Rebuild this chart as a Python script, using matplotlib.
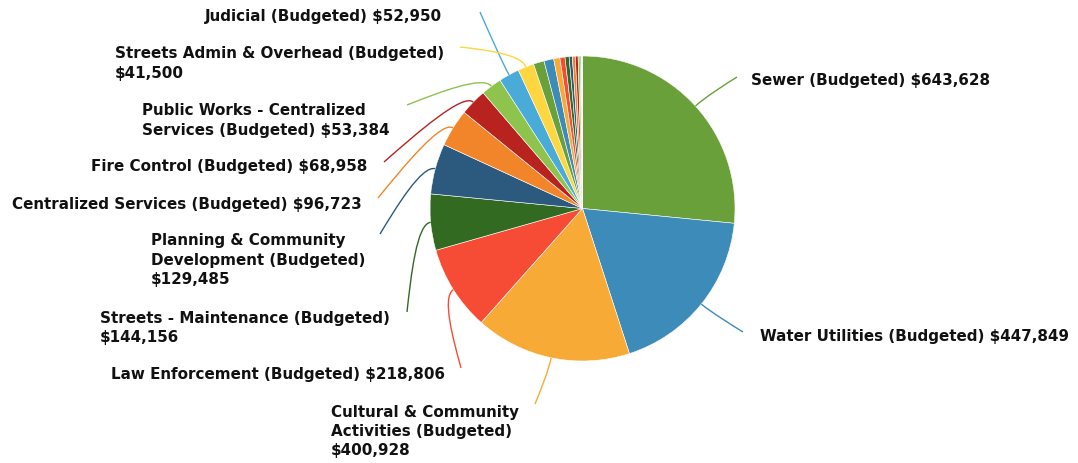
import matplotlib
matplotlib.use('Agg')
import matplotlib.pyplot as plt
import numpy as np
from matplotlib.path import Path
from matplotlib.patches import PathPatch

# ---- Budget data -------------------------------------------------------------
labels = [
    'Sewer (Budgeted) $643,628',
    'Water Utilities (Budgeted) $447,849',
    'Cultural & Community\nActivities (Budgeted)\n$400,928',
    'Law Enforcement (Budgeted) $218,806',
    'Streets - Maintenance (Budgeted)\n$144,156',
    'Planning & Community\nDevelopment (Budgeted)\n$129,485',
    'Centralized Services (Budgeted) $96,723',
    'Fire Control (Budgeted) $68,958',
    'Public Works - Centralized\nServices (Budgeted) $53,384',
    'Judicial (Budgeted) $52,950',
    'Streets Admin & Overhead (Budgeted)\n$41,500',
]
labelled_values = [643628, 447849, 400928, 218806, 144156, 129485,
                   96723, 68958, 53384, 52950, 41500]
# small departments drawn without labels
small_values = [27500, 25000, 16000, 13000, 10500, 8200, 7600, 7000,
                5000, 3000, 2000, 1200]

values = labelled_values + small_values

palette = ['#6aa03a', '#3d8bb8', '#f7aa36', '#f64c36', '#336a21', '#2c5a7f',
           '#f2852a', '#b8231f', '#8ec34e', '#4aaad8', '#fdd640']
colors = [palette[i % len(palette)] for i in range(len(values))]

# ---- Layout (pixel space, y measured from top) ---------------------------------
W, H = 1078, 464
cx, cy, r = 582.5, 209.5, 152.5

# leader-line end point and label anchor for each labelled slice
line_ends = [(737, 78), (743, 333), (535, 405), (461, 369), (407, 313),
             (380, 235), (378, 199), (384, 163), (407, 106), (480, 13),
             (460, 48)]
label_pos = [(751, 80, 'left'), (760, 337, 'left'), (519, 431.5, 'right'),
             (445, 375, 'right'), (390, 328, 'right'), (365, 260, 'right'),
             (362, 204, 'right'), (367, 167, 'right'), (390, 120.5, 'right'),
             (442, 17, 'right'), (444, 63.5, 'right')]


def Y(y):
    return H - y


fig = plt.figure(figsize=(W / 100, H / 100), dpi=100)
ax = fig.add_axes([0, 0, 1, 1])

wedges, _ = ax.pie(values, colors=colors, startangle=90, counterclock=False,
                   center=(cx, Y(cy)), radius=r, frame=True,
                   wedgeprops=dict(edgecolor='white', linewidth=0.4))
ax.set_xlim(0, W)
ax.set_ylim(0, H)
ax.axis('off')

for i, text in enumerate(labels):
    w = wedges[i]
    mid = np.deg2rad((w.theta1 + w.theta2) / 2)
    d = np.array([np.cos(mid), np.sin(mid)])
    p0 = np.array([cx, Y(cy)]) + d * r
    p1 = p0 + d * 14
    p3 = np.array([line_ends[i][0], Y(line_ends[i][1])])
    p2 = p1 + (p3 - p1) * 0.6
    path = Path([p0, p1, p2, p3],
                [Path.MOVETO, Path.CURVE4, Path.CURVE4, Path.CURVE4])
    ax.add_patch(PathPatch(path, facecolor='none', edgecolor=colors[i], lw=1.0))

    lx, ly, ha = label_pos[i]
    ax.text(lx, Y(ly), text, ha=ha, va='center', multialignment='left',
            fontsize=10.9, fontweight='bold', color='#111111',
            family='DejaVu Sans', linespacing=1.37)

fig.savefig('out.png', dpi=100)
